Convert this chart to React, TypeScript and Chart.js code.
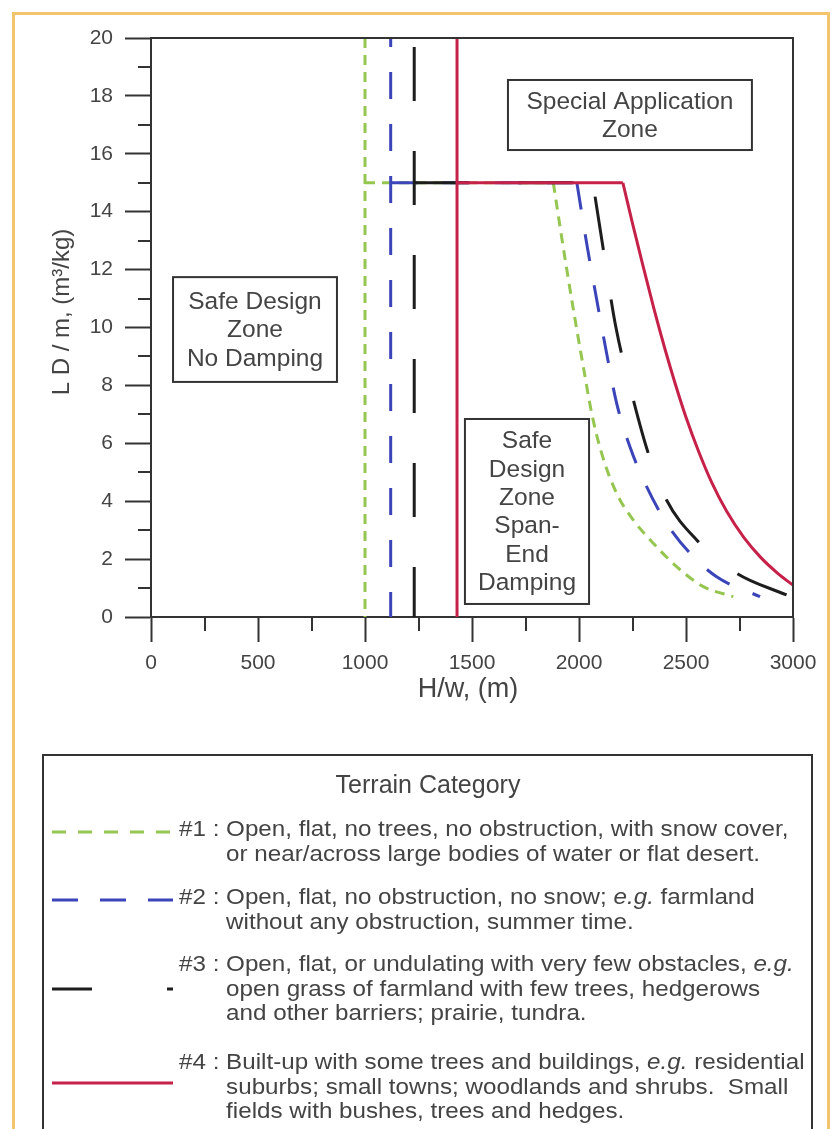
import React, { useEffect, useRef } from 'react';
import { Chart, registerables } from 'chart.js';

Chart.register(...registerables);

// ---------------- data ----------------
const xTickValues = [0, 500, 1000, 1500, 2000, 2500, 3000];
const yTickValues = [0, 2, 4, 6, 8, 10, 12, 14, 16, 18, 20];

const categories = ['#1', '#2', '#3', '#4'];
const verticalX = [1000, 1120, 1230, 1430];
const plateauY = 15;

const cat1CurveX = [1880, 1911, 1943, 1981, 2020, 2059, 2106, 2176, 2254, 2347, 2456, 2581, 2721];
const cat1CurveY = [15, 13.5, 12.0, 10.3, 8.65, 7.05, 5.65, 4.27, 3.35, 2.55, 1.74, 1.05, 0.7];

const cat2CurveX = [1990, 2036, 2083, 2129, 2176, 2238, 2316, 2409, 2519, 2643, 2846];
const cat2CurveY = [15, 12.9, 10.95, 9.11, 7.38, 5.88, 4.5, 3.24, 2.2, 1.39, 0.7];

const cat3CurveX = [2065, 2114, 2171, 2254, 2324, 2409, 2550, 2737, 2970];
const cat3CurveY = [15, 12.68, 10.06, 7.5, 5.65, 4.04, 2.66, 1.51, 0.76];

const cat4CurveX = [2205, 2250, 2300, 2350, 2400, 2450, 2500, 2560, 2620, 2690, 2770, 2850, 2930, 3000];
const cat4CurveY = [15, 13.6, 12.1, 10.65, 9.3, 8.05, 6.9, 5.7, 4.65, 3.65, 2.75, 2.05, 1.5, 1.1];

const curveXs = [cat1CurveX, cat2CurveX, cat3CurveX, cat4CurveX];
const curveYs = [cat1CurveY, cat2CurveY, cat3CurveY, cat4CurveY];

const categoryDescriptions = [
  ['Open, flat, no trees, no obstruction, with snow cover,', 'or near/across large bodies of water or flat desert.'],
  ['Open, flat, no obstruction, no snow; _e.g._ farmland', 'without any obstruction, summer time.'],
  ['Open, flat, or undulating with very few obstacles, _e.g._', 'open grass of farmland with few trees, hedgerows', 'and other barriers; prairie, tundra.'],
  ['Built-up with some trees and buildings, _e.g._ residential', 'suburbs; small towns; woodlands and shrubs.  Small', 'fields with bushes, trees and hedges.'],
];

const zoneBoxes = [
  { lines: ['Special Application', 'Zone'], x0: 1668, x1: 2808, y0: 16.13, y1: 18.55 },
  { lines: ['Safe Design', 'Zone', 'No Damping'], x0: 103, x1: 869, y0: 8.12, y1: 11.74 },
  { lines: ['Safe', 'Design', 'Zone', 'Span-', 'End', 'Damping'], x0: 1467, x1: 2047, y0: 0.45, y1: 6.84 },
];

const xTitle = 'H/w, (m)';
const yTitle = 'L D / m, (m³/kg)';
const legendTitle = 'Terrain Category';

// ---------------- styles ----------------
const FONT = '"Liberation Sans", Arial, Helvetica, sans-serif';
const colors = ['#95c650', '#3b45b9', '#1d1d1d', '#c62149'];
const dashes = [[10, 7], [27, 25], [54, 50], []];
const stemDashOffset = [0, 18, 95, 0];
const curveDashOffset = [0, 0, 90, 0];
const legendDashes = [[14, 12], [26, 22], [40, 75], []];
const order = [3, 2, 1, 0];
const textColor = '#444444';
const axisColor = '#333333';

function buildDatasets() {
  const ds: any[] = [];
  categories.forEach((c, i) => {
    const base = {
      borderColor: colors[i],
      borderWidth: 3,
      borderDash: dashes[i],
      pointRadius: 0,
      fill: false,
      order: order[i],
      showLine: true,
    };
    ds.push({ ...base, label: c + ' stem', data: [{ x: verticalX[i], y: 20 }, { x: verticalX[i], y: 0 }], tension: 0, borderDashOffset: stemDashOffset[i] });
    ds.push({ ...base, label: c + ' plateau', data: [{ x: verticalX[i], y: plateauY }, { x: curveXs[i][0], y: plateauY }], tension: 0 });
    ds.push({
      ...base,
      label: c,
      data: curveXs[i].map((x, k) => ({ x, y: curveYs[i][k] })),
      cubicInterpolationMode: 'monotone',
      borderDashOffset: curveDashOffset[i],
    });
  });
  return ds;
}

function parseRich(s: string) {
  const parts = s.split('_');
  return parts.map((t, i) => ({ text: t, italic: i % 2 === 1 }));
}

// draws text horizontally stretched by sx (narrow, tall reference typeface)
function drawRich(ctx: CanvasRenderingContext2D, s: string, x: number, y: number, size: number, sx: number) {
  ctx.save();
  ctx.translate(x, y);
  ctx.scale(sx, 1);
  let cx = 0;
  for (const seg of parseRich(s)) {
    ctx.font = `${seg.italic ? 'italic ' : ''}${size}px ${FONT}`;
    ctx.fillText(seg.text, cx, 0);
    cx += ctx.measureText(seg.text).width;
  }
  ctx.restore();
}

const decorPlugin = {
  id: 'decor',
  beforeDraw(chart: any) {
    const ctx = chart.ctx;
    ctx.save();
    ctx.fillStyle = '#ffffff';
    ctx.fillRect(0, 0, chart.width, chart.height);
    ctx.strokeStyle = '#f3c46c';
    ctx.lineWidth = 3;
    ctx.strokeRect(13.5, 13.5, 815, 1130);
    ctx.restore();
  },
  afterDatasetsDraw(chart: any) {
    const ctx: CanvasRenderingContext2D = chart.ctx;
    const xs = chart.scales.x;
    const ys = chart.scales.y;
    const a = chart.chartArea;
    ctx.save();
    // frame top/right
    ctx.strokeStyle = axisColor;
    ctx.lineWidth = 2;
    ctx.beginPath();
    ctx.moveTo(a.left, a.top);
    ctx.lineTo(a.right, a.top);
    ctx.lineTo(a.right, a.bottom);
    ctx.stroke();
    // minor ticks
    ctx.beginPath();
    for (let v = 250; v < 3000; v += 500) {
      const px = Math.round(xs.getPixelForValue(v));
      ctx.moveTo(px, a.bottom);
      ctx.lineTo(px, a.bottom + 14);
    }
    for (let v = 1; v < 20; v += 2) {
      const py = Math.round(ys.getPixelForValue(v));
      ctx.moveTo(a.left, py);
      ctx.lineTo(a.left - 13, py);
    }
    ctx.stroke();

    // zone boxes
    ctx.textAlign = 'center';
    ctx.textBaseline = 'middle';
    for (const b of zoneBoxes) {
      const l = xs.getPixelForValue(b.x0);
      const r = xs.getPixelForValue(b.x1);
      const t = ys.getPixelForValue(b.y1);
      const bt = ys.getPixelForValue(b.y0);
      ctx.fillStyle = '#ffffff';
      ctx.fillRect(l, t, r - l, bt - t);
      ctx.strokeStyle = axisColor;
      ctx.lineWidth = 2;
      ctx.strokeRect(l, t, r - l, bt - t);
      ctx.fillStyle = textColor;
      ctx.font = `24.5px ${FONT}`;
      const lh = 28.4;
      const cy = (t + bt) / 2 + 1;
      const cx = (l + r) / 2;
      b.lines.forEach((ln, k) => {
        ctx.fillText(ln, cx, cy + (k - (b.lines.length - 1) / 2) * lh);
      });
    }

    // axis titles
    ctx.fillStyle = textColor;
    ctx.font = `27px ${FONT}`;
    ctx.fillText(xTitle, (a.left + a.right) / 2 - 4, 690);
    ctx.save();
    ctx.translate(62, 312);
    ctx.rotate(-Math.PI / 2);
    ctx.font = `24px ${FONT}`;
    ctx.fillText(yTitle, 0, 0);
    ctx.restore();

    // legend box
    ctx.strokeStyle = axisColor;
    ctx.lineWidth = 2;
    ctx.strokeRect(43, 755, 769, 400);
    ctx.fillStyle = textColor;
    ctx.font = `25px ${FONT}`;
    ctx.fillText(legendTitle, 428, 786);

    const rowStarts = [830, 898, 965, 1063];
    const sampleY = [832, 900, 989, 1083];
    const lh = 24.5;
    const fs = 22;
    const sx = 1.1;
    categories.forEach((c, i) => {
      const y0 = rowStarts[i];
      ctx.save();
      ctx.strokeStyle = colors[i];
      ctx.lineWidth = 3;
      ctx.setLineDash(legendDashes[i]);
      ctx.beginPath();
      ctx.moveTo(52, sampleY[i]);
      ctx.lineTo(173, sampleY[i]);
      ctx.stroke();
      ctx.restore();
      ctx.fillStyle = textColor;
      ctx.textAlign = 'left';
      ctx.font = `${fs}px ${FONT}`;
      const prefix = c + ' : ';
      const px0 = 179;
      drawRich(ctx, prefix, px0, y0, fs, sx);
      ctx.font = `${fs}px ${FONT}`;
      const tx = px0 + ctx.measureText(prefix).width * sx;
      categoryDescriptions[i].forEach((ln, k) => {
        drawRich(ctx, ln, tx, y0 + k * lh, fs, sx);
      });
    });
    ctx.restore();
  },
};

export default function App() {
  const ref = useRef<HTMLCanvasElement>(null);
  useEffect(() => {
    if (!ref.current) return;
    const tickFont = { family: FONT, size: 21 };
    const chart = new Chart(ref.current, {
      type: 'scatter',
      data: { datasets: buildDatasets() },
      options: {
        responsive: false,
        maintainAspectRatio: false,
        animation: false,
        devicePixelRatio: 1,
        layout: { padding: { left: 0, top: 38, right: 40, bottom: 1129 - 617 - 90 } },
        plugins: { legend: { display: false }, tooltip: { enabled: false } },
        scales: {
          x: {
            type: 'linear',
            min: 0,
            max: 3000,
            ticks: {
              stepSize: 250,
              autoSkip: false,
              maxRotation: 0,
              padding: 9,
              color: textColor,
              font: tickFont,
              callback: (v: any) => (xTickValues.includes(Number(v)) ? String(v) : ''),
            },
            grid: {
              drawOnChartArea: false,
              drawTicks: true,
              tickLength: 25,
              tickWidth: 2,
              tickColor: (c: any) => (c.tick && xTickValues.includes(c.tick.value) ? axisColor : 'rgba(0,0,0,0)'),
            },
            border: { display: true, color: axisColor, width: 2 },
            afterFit: (s: any) => { s.height = 90; },
          },
          y: {
            type: 'linear',
            min: 0,
            max: 20,
            ticks: {
              stepSize: 1,
              autoSkip: false,
              padding: 12,
              color: textColor,
              font: tickFont,
              callback: (v: any) => (yTickValues.includes(Number(v)) ? String(v) : ''),
            },
            grid: {
              drawOnChartArea: false,
              drawTicks: true,
              tickLength: 26,
              tickWidth: 2,
              tickColor: (c: any) => (c.tick && yTickValues.includes(c.tick.value) ? axisColor : 'rgba(0,0,0,0)'),
            },
            border: { display: true, color: axisColor, width: 2 },
            afterFit: (s: any) => { s.width = 151; },
          },
        },
      },
      plugins: [decorPlugin],
    } as any);
    return () => chart.destroy();
  }, []);
  return (
    <div style={{ position: 'fixed', left: 0, top: 0, width: 833, height: 1129, background: '#fff' }}>
      <canvas ref={ref} width={833} height={1129} style={{ width: 833, height: 1129, display: 'block' }} />
    </div>
  );
}
